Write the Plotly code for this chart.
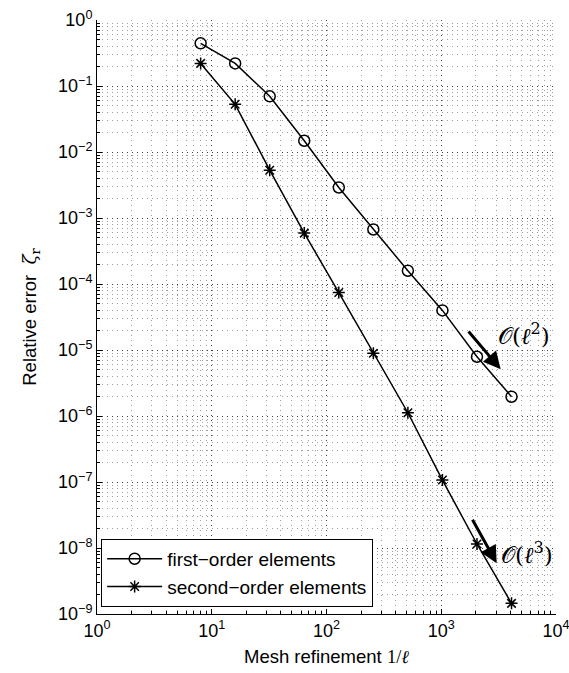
import plotly.graph_objects as go

# ---- data ----
mesh_refinement = [8, 16, 32, 64, 128, 256, 512, 1024, 2048, 4096]
first_order = [0.443, 0.22, 0.0698, 0.0148, 0.0029, 0.00067, 0.000159, 0.0000398, 0.0000079, 0.00000196]
second_order = [0.22, 0.0528, 0.0053, 0.00059, 0.0000741, 0.0000089, 0.00000112, 0.000000107, 0.0000000115, 0.00000000145]

x_tick_vals = [1, 10, 100, 1000, 10000]
x_tick_text = ["10<sup>0</sup>", "10<sup>1</sup>", "10<sup>2</sup>", "10<sup>3</sup>", "10<sup>4</sup>"]
y_tick_vals = [1e0, 1e-1, 1e-2, 1e-3, 1e-4, 1e-5, 1e-6, 1e-7, 1e-8, 1e-9]
y_tick_text = ["10<sup>0</sup>", "10<sup>−1</sup>", "10<sup>−2</sup>", "10<sup>−3</sup>", "10<sup>−4</sup>",
               "10<sup>−5</sup>", "10<sup>−6</sup>", "10<sup>−7</sup>", "10<sup>−8</sup>", "10<sup>−9</sup>"]

FONT = "Liberation Sans, Arial, Helvetica, sans-serif"
SERIF = "DejaVu Serif, Liberation Serif, serif"

fig = go.Figure()
fig.add_trace(go.Scatter(
    x=mesh_refinement, y=first_order, mode="lines+markers", name="first−order elements",
    line=dict(color="black", width=1.5),
    marker=dict(symbol="circle-open", size=11, color="black", line=dict(width=1.5, color="black")),
))
fig.add_trace(go.Scatter(
    x=mesh_refinement, y=second_order, mode="lines+markers", name="second−order elements",
    line=dict(color="black", width=1.5),
    marker=dict(symbol="asterisk-open", size=10, color="black", line=dict(width=1.5, color="black")),
))

gridc = "rgba(0,0,0,0.6)"
minorc = "rgba(0,0,0,0.38)"
DOTS = "1px,4px"

axis_common = dict(
    type="log", tickmode="array", automargin=False,
    ticks="inside", ticklen=5, tickcolor="black", showline=True, linecolor="black", linewidth=1,
    showgrid=True, gridcolor=gridc, griddash=DOTS, gridwidth=1, zeroline=False,
    minor=dict(ticks="inside", ticklen=3, tickcolor="black", showgrid=True, gridcolor=minorc,
               griddash=DOTS, gridwidth=1, dtick="D1"),
    tickfont=dict(family=FONT, size=18, color="black"),
    ticklabeloverflow="allow",
)

fig.update_xaxes(
    range=[0, 4], tickvals=x_tick_vals, ticktext=x_tick_text,
    title=dict(text="Mesh refinement <span style='font-family:Liberation Serif'>1/<i>ℓ</i></span>",
               font=dict(family=FONT, size=18.5, color="black"), standoff=10),
    **axis_common,
)
fig.update_yaxes(
    range=[-9, 0], tickvals=y_tick_vals, ticktext=y_tick_text,
    title=dict(text="Relative error  <span style='font-family:DejaVu Serif'><i>ζ</i><sub>r</sub></span>",
               font=dict(family=FONT, size=18.5, color="black"), standoff=16),
    **axis_common,
)

# rate-of-convergence arrows
arrows = [
    dict(x0=3.518, y0=-5.292, x1=3.227, y1=-4.697, label="𝒪(<i>ℓ</i><sup>2</sup>)", tx=3.48, ty=-4.75),
    dict(x0=3.483, y0=-8.23, x1=3.265, y1=-7.55, label="𝒪(<i>ℓ</i><sup>3</sup>)", tx=3.50, ty=-8.08),
]
for a in arrows:
    fig.add_annotation(x=a["x0"], y=a["y0"], ax=a["x1"], ay=a["y1"], xref="x", yref="y", axref="x", ayref="y",
                       showarrow=True, arrowhead=2, arrowsize=1.15, arrowwidth=3, arrowcolor="black", text="")
    fig.add_annotation(x=a["tx"], y=a["ty"], xref="x", yref="y", text=a["label"], showarrow=False,
                       xanchor="left", yanchor="middle", font=dict(family=SERIF, size=23, color="black"))

fig.update_layout(
    width=569, height=673, autosize=False,
    margin=dict(l=97, r=13, t=20, b=59, autoexpand=False),
    paper_bgcolor="white", plot_bgcolor="white",
    font=dict(family=FONT, size=16, color="black"),
    showlegend=True,
    legend=dict(x=0.009, y=0.012, xanchor="left", yanchor="bottom", bgcolor="white",
                bordercolor="black", borderwidth=1, font=dict(family=FONT, size=19, color="black"),
                tracegroupgap=0, itemwidth=55),
)

fig.write_html("out.html")
